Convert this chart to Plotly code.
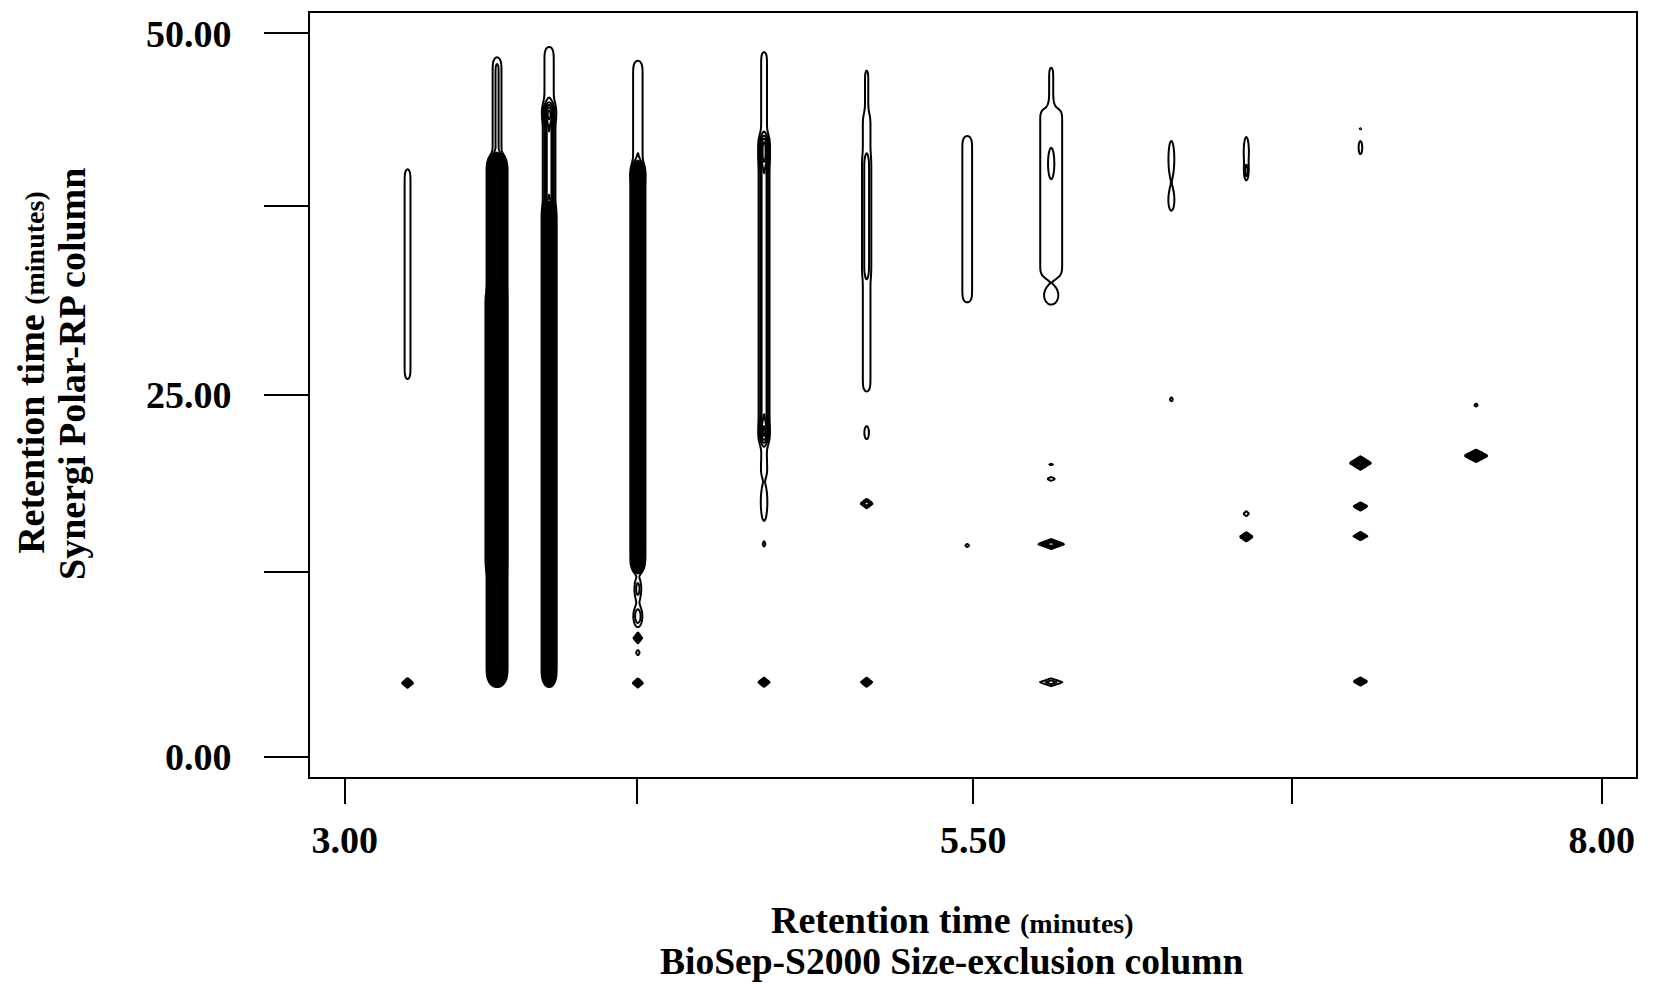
import math
import numpy as np
import plotly.graph_objects as go

# ---- Peak table (1st dim: BioSep-S2000 SEC time, 2nd dim: Synergi Polar-RP time, minutes) ----
# Streaks: zones that spread over a span of 2nd-dimension time
streak_x = [3.250, 3.606, 3.606, 3.598, 3.813, 3.813, 3.813, 4.166, 4.166,
            4.668, 4.668, 4.668, 5.076, 5.076, 5.076, 5.476, 5.810, 5.810]
streak_y0 = [26.0, 41.5, 5.4, 13.0, 44.0, 37.8, 5.4, 40.0, 13.2,
             41.0, 21.8, 19.4, 44.5, 25.2, 33.2, 31.3, 44.9, 33.0]
streak_y1 = [40.7, 48.3, 41.2, 32.0, 49.1, 45.0, 37.8, 48.1, 40.6,
             48.8, 42.8, 23.0, 47.6, 44.5, 41.5, 43.0, 47.8, 45.0]
streak_sx = [0.012, 0.014, 0.016, 0.018, 0.017, 0.014, 0.0115, 0.016, 0.0115,
             0.012, 0.013, 0.012, 0.008, 0.014, 0.012, 0.020, 0.010, 0.045]
streak_amp = [1.6, 2.2, 30.0, 5.0, 1.8, 5.0, 30.0, 2.0, 30.0,
              1.6, 4.0, 1.5, 1.4, 1.8, 0.8, 1.6, 1.4, 1.6]

# Spots: isolated peaks
spot_x = [3.250,
          4.166, 4.166, 4.166, 4.166, 4.166,
          4.668, 4.668, 4.668,
          5.076, 5.076, 5.076,
          5.476,
          5.810, 5.810, 5.810, 5.810, 5.810, 5.810,
          6.288, 6.288, 6.288,
          6.586, 6.586, 6.586, 6.586,
          7.040, 7.040, 7.040, 7.040, 7.040, 7.040,
          7.500, 7.500]
spot_y = [5.10,
          11.6, 9.7, 8.2, 7.2, 5.10,
          17.6, 14.7, 5.15,
          22.4, 17.5, 5.15,
          14.6,
          41.0, 31.9, 20.2, 19.2, 14.7, 5.15,
          41.3, 38.4, 24.7,
          41.8, 40.4, 16.8, 15.2,
          43.4, 42.1, 20.3, 17.3, 15.25, 5.20,
          24.3, 20.8]
spot_sx = [0.012,
           0.010, 0.012, 0.009, 0.008, 0.011,
           0.012, 0.006, 0.012,
           0.010, 0.015, 0.012,
           0.008,
           0.010, 0.026, 0.012, 0.020, 0.030, 0.034,
           0.012, 0.012, 0.006,
           0.010, 0.006, 0.010, 0.014,
           0.004, 0.008, 0.020, 0.015, 0.015, 0.015,
           0.008, 0.022]
spot_sy = [0.18,
           0.60, 0.50, 0.20, 0.22, 0.17,
           1.20, 0.25, 0.17,
           0.50, 0.20, 0.17,
           0.15,
           0.80, 0.60, 0.10, 0.15, 0.19, 0.20,
           1.30, 0.70, 0.15,
           1.00, 0.40, 0.15, 0.17,
           0.12, 0.50, 0.22, 0.15, 0.15, 0.15,
           0.12, 0.20]
spot_amp = [6.0,
            2.5, 3.0, 6.0, 1.6, 6.0,
            1.8, 1.4, 6.0,
            1.5, 4.0, 6.0,
            1.5,
            1.0, 1.8, 1.2, 1.5, 5.0, 2.5,
            1.6, 1.5, 1.8,
            1.7, 2.0, 2.0, 6.0,
            1.2, 1.5, 10.0, 6.0, 6.0, 6.0,
            1.6, 10.0]

# Axis ticks
x_tick_vals = [3.00, 4.163, 5.50, 6.766, 8.00]
x_tick_text = ["3.00", "", "5.50", "", "8.00"]
y_tick_vals = [0.00, 12.74, 25.00, 38.08, 50.00]
y_tick_text = ["0.00", "", "25.00", "", "50.00"]

X_RANGE = [2.862, 8.136]
Y_RANGE = [-1.40, 51.40]

# ---- Intensity grid: fine sampling around each peak column, coarse elsewhere ----
cols = sorted(set(streak_x + spot_x))
xs = [np.arange(X_RANGE[0], X_RANGE[1] + 0.05, 0.05)]
for c in cols:
    half = 0.13 if abs(c - 5.810) < 1e-6 else 0.065
    xs.append(np.arange(c - half, c + half, 0.0035))
xg = np.unique(np.round(np.concatenate(xs), 5))
yg = np.arange(Y_RANGE[0], Y_RANGE[1] + 0.08, 0.08)

verf = np.vectorize(math.erf)
EDGE = 0.45
z = np.zeros((yg.size, xg.size))
# streaks: gaussian across, soft-edged plateau along the 2nd dimension
for x0, ya, yb, sx, a in zip(streak_x, streak_y0, streak_y1, streak_sx, streak_amp):
    prof_y = 0.5 * (verf((yg - ya) / EDGE) - verf((yg - yb) / EDGE))
    prof_x = np.exp(-0.5 * ((xg - x0) / sx) ** 2)
    z += a * np.outer(prof_y, prof_x)
# spots: compact ones are rhombic (L1 distance), elongated ones gaussian
for x0, y0, sx, sy, a in zip(spot_x, spot_y, spot_sx, spot_sy, spot_amp):
    dy = np.abs(yg - y0)[:, None] / sy
    dx = np.abs(xg - x0)[None, :] / sx
    if sy < 0.4:
        z += a * np.exp(-0.5 * (dx + dy) ** 2)
    else:
        z += a * np.exp(-0.5 * (dx ** 2 + dy ** 2))
z = np.round(z, 3)

fig = go.Figure(go.Contour(
    x=xg, y=yg, z=z,
    autocontour=False,
    contours=dict(start=1, end=40, size=1, coloring="lines"),
    colorscale=[[0, "black"], [1, "black"]],
    line=dict(width=2.0, smoothing=0.8),
    showscale=False,
    hoverinfo="skip",
))

SERIF = "Liberation Serif"
tick_font = dict(family=SERIF, size=38, color="black", weight="bold")

fig.update_layout(
    width=1653, height=984,
    margin=dict(l=310, r=17, t=13, b=207),
    paper_bgcolor="white", plot_bgcolor="white",
    showlegend=False,
    xaxis=dict(
        range=X_RANGE, showgrid=False, zeroline=False,
        showline=True, linecolor="black", linewidth=2, mirror=True,
        ticks="outside", ticklen=25, tickwidth=1.6, tickcolor="black",
        tickvals=x_tick_vals, ticktext=x_tick_text, tickfont=tick_font,
        ticklabelstandoff=3,
    ),
    yaxis=dict(
        range=Y_RANGE, showgrid=False, zeroline=False,
        showline=True, linecolor="black", linewidth=2, mirror=True,
        ticks="outside", ticklen=44, tickwidth=1.6, tickcolor="black",
        tickvals=y_tick_vals, ticktext=y_tick_text, tickfont=tick_font,
        ticklabelstandoff=25,
    ),
)

title_font = dict(family=SERIF, size=38, color="black", weight="bold")
minutes = "<span style='font-size:28px'>(minutes)</span>"
fig.add_annotation(text="Retention time " + minutes, xref="paper", yref="paper",
                   x=0.4842, y=-0.187, xanchor="center", yanchor="middle",
                   showarrow=False, font=title_font)
fig.add_annotation(text="BioSep-S2000 Size-exclusion column", xref="paper", yref="paper",
                   x=0.4842, y=-0.242, xanchor="center", yanchor="middle",
                   showarrow=False, font=dict(title_font, size=37.5))
fig.add_annotation(text="Retention time " + minutes, xref="paper", yref="paper",
                   x=-0.2104, y=0.529, xanchor="center", yanchor="middle",
                   textangle=-90, showarrow=False, font=title_font)
fig.add_annotation(text="Synergi Polar-RP column", xref="paper", yref="paper",
                   x=-0.1795, y=0.5275, xanchor="center", yanchor="middle",
                   textangle=-90, showarrow=False, font=title_font)

fig.write_html("out.html")
